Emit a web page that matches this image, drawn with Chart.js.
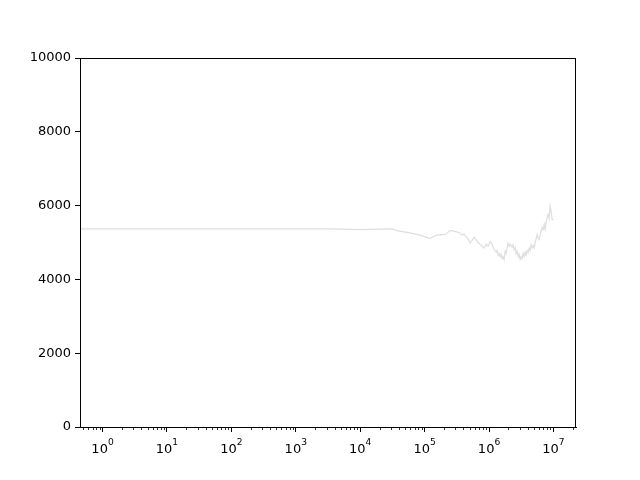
<!DOCTYPE html>
<html>
<head>
<meta charset="utf-8">
<script src="https://cdn.jsdelivr.net/npm/chart.js@4/dist/chart.umd.min.js"></script>
<style>
  html, body { margin: 0; padding: 0; background: white; }
  #box { width: 640px; height: 480px; }
</style>
</head>
<body>
<div id="box"><canvas id="chart" width="640" height="480"></canvas></div>
<script>
// values; x is given as log10(x) because the axis is logarithmic
var xExponents = [-0.347, 0, 1, 2, 3, 3.53, 4.0, 4.5, 4.57, 4.77,
    4.93, 5.08, 5.19, 5.32, 5.40, 5.50,
    5.551, 5.582, 5.613, 5.644, 5.675, 5.707, 5.738, 5.769, 5.800, 5.831,
    5.862, 5.893, 5.924, 5.955, 5.986, 6.017, 6.048, 6.079, 6.110, 6.126,
    6.141, 6.157, 6.172, 6.188, 6.203, 6.219, 6.234, 6.250, 6.265, 6.296,
    6.312, 6.328, 6.359, 6.374, 6.390, 6.405, 6.421, 6.436, 6.452, 6.467,
    6.483, 6.498, 6.514, 6.529, 6.545, 6.561, 6.576, 6.592, 6.607, 6.623,
    6.638, 6.654, 6.669, 6.685, 6.700, 6.716, 6.731, 6.747, 6.762, 6.778,
    6.793, 6.809, 6.825, 6.840, 6.856, 6.871, 6.887, 6.902, 6.918, 6.933,
    6.949, 6.964, 6.980, 7.0]
var yValues = [5370, 5370, 5370, 5370, 5370, 5370, 5350, 5370, 5320, 5260,
    5200, 5110, 5200, 5220, 5330, 5290,
    5250, 5200, 5230, 5150, 5100, 4990, 5060, 5140, 5080, 5000,
    4950, 4900, 4850, 4960, 4900, 5030, 4950, 4810, 4740, 4780,
    4650, 4700, 4620, 4680, 4560, 4620, 4540, 4760, 4700, 4990,
    4900, 4960, 4880, 4940, 4800, 4860, 4700, 4760, 4620, 4680,
    4540, 4620, 4560, 4700, 4620, 4740, 4660, 4780, 4720, 4850,
    4780, 4940, 4860, 4920, 4850, 5000, 5100, 5220, 5120, 5080,
    5200, 5300, 5400, 5350, 5490, 5350, 5550, 5680, 5760, 5650,
    5990, 5850, 5620, 5620]
var xMajorExponents = [0, 1, 2, 3, 4, 5, 6, 7]
var yTicks = [0, 2000, 4000, 6000, 8000, 10000]

Chart.defaults.font.family = 'DejaVu Sans';
Chart.defaults.font.size = 13;
Chart.defaults.color = 'black';

var points = xExponents.map(function(e, i){ return {x: Math.pow(10, e), y: yValues[i]} })
var xMajorTicks = xMajorExponents.map(function(e){ return Math.pow(10, e) })

// frame on all four sides, minor ticks and 10^n labels on the log axis
var framePlugin = {
    id: 'frame',
    afterDraw: function(chart){
        var ctx = chart.ctx, a = chart.chartArea, sx = chart.scales.x
        ctx.save()
        ctx.strokeStyle = 'black'
        ctx.lineWidth = 1
        ctx.strokeRect(Math.round(a.left) + 0.5, Math.round(a.top) + 0.5,
            Math.round(a.right - a.left) - 1, Math.round(a.bottom - a.top))
        ctx.lineWidth = 0.8
        for (var e = -1; e <= 7; e++) {
            for (var m = 2; m <= 9; m++) {
                var v = m * Math.pow(10, e)
                if (v < sx.min || v > sx.max) continue
                var px = Math.round(sx.getPixelForValue(v)) + 0.5
                ctx.beginPath()
                ctx.moveTo(px, a.bottom)
                ctx.lineTo(px, a.bottom + 3)
                ctx.stroke()
            }
        }
        ctx.fillStyle = 'black'
        ctx.textAlign = 'left'
        ctx.textBaseline = 'alphabetic'
        xMajorExponents.forEach(function(n, i){
            var px = sx.getPixelForValue(xMajorTicks[i])
            ctx.font = '13px "DejaVu Sans"'
            var w1 = ctx.measureText('10').width
            ctx.font = '9.1px "DejaVu Sans"'
            var w2 = ctx.measureText(String(n)).width
            var x0 = px - (w1 + w2) / 2
            ctx.font = '13px "DejaVu Sans"'
            ctx.fillText('10', x0, a.bottom + 26)
            ctx.font = '9.1px "DejaVu Sans"'
            ctx.fillText(String(n), x0 + w1, a.bottom + 18)
        })
        ctx.restore()
    }
}

new Chart(document.getElementById('chart').getContext('2d'), {
    type: 'line',
    data: {
        datasets: [{
            data: points,
            borderColor: '#dedede',
            borderWidth: 1.2,
            pointRadius: 0,
            tension: 0,
            fill: false
        }]
    },
    options: {
        responsive: false,
        animation: false,
        devicePixelRatio: 1,
        layout: { padding: { left: 0, right: 64, top: 58, bottom: 0 } },
        plugins: {
            legend: { display: false },
            tooltip: { enabled: false }
        },
        scales: {
            x: {
                type: 'logarithmic',
                min: 0.447,
                max: 22400000,
                afterBuildTicks: function(scale){
                    scale.ticks = xMajorTicks.map(function(v){ return {value: v} })
                },
                afterFit: function(scale){ scale.height = 53 },
                ticks: { display: false },
                grid: { drawOnChartArea: false, drawTicks: true, tickLength: 5, color: 'black' },
                border: { display: true, color: 'black' }
            },
            y: {
                min: 0,
                max: 10000,
                afterBuildTicks: function(scale){
                    scale.ticks = yTicks.map(function(v){ return {value: v} })
                },
                afterFit: function(scale){ scale.width = 80 },
                ticks: {
                    padding: 4,
                    callback: function(value){ return String(value) }
                },
                grid: { drawOnChartArea: false, drawTicks: true, tickLength: 5, color: 'black' },
                border: { display: true, color: 'black' }
            }
        }
    },
    plugins: [framePlugin]
})
</script>
</body>
</html>
